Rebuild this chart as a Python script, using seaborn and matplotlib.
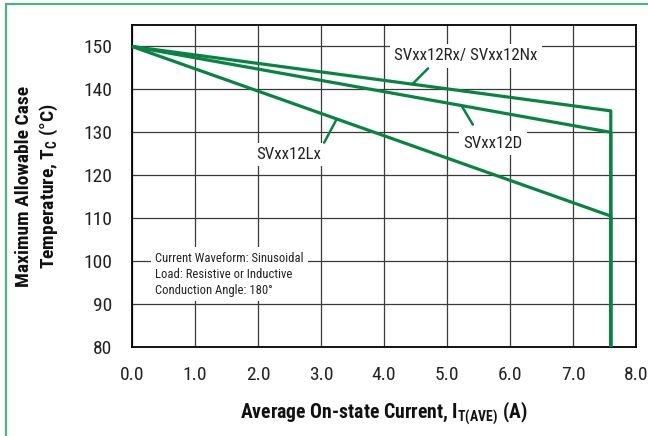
import numpy as np
import pandas as pd
import matplotlib
matplotlib.use("Agg")
import matplotlib.pyplot as plt
import seaborn as sns
from matplotlib.lines import Line2D

# data
series = ["SVxx12Rx/ SVxx12Nx", "SVxx12D", "SVxx12Lx"]
start_current = 0.0
start_temp = 150
end_current = 7.6
end_temp = [135, 130, 110.5]
floor_temp = 80

# label placement (data coords) and leader lines
label_pos = [(5.30, 147.8), (5.73, 127.5), (2.48, 124.8)]
leader_on_line = [4.45, 5.23, 3.25]
leader_end = [(4.70, 144.9), (5.41, 131.8), (3.05, 127.6)]

note = "Current Waveform: Sinusoidal\nLoad: Resistive or Inductive\nConduction Angle: 180°"

x_ticks = np.arange(0, 8.1, 1.0)
y_ticks = np.arange(80, 151, 10)

green = "#078443"

sns.set_style("white")
plt.rcParams["font.family"] = ["Roboto Condensed", "Roboto", "DejaVu Sans"]
plt.rcParams["mathtext.default"] = "regular"

rows = []
for name, t_end in zip(series, end_temp):
    for c, t in [(start_current, start_temp), (end_current, t_end), (end_current, floor_temp)]:
        rows.append({"series": name, "current": c, "temp": t})
df = pd.DataFrame(rows)

fig = plt.figure(figsize=(6.48, 4.36), dpi=100)
ax = fig.add_axes([132 / 648, 1 - 347 / 436, 504 / 648, 322 / 436])

sns.lineplot(data=df, x="current", y="temp", hue="series", sort=False,
             estimator=None, palette=[green] * 3, legend=False,
             linewidth=2.3, ax=ax, zorder=5)

ax.set_xlim(0, 8)
ax.set_ylim(80, 155)
ax.set_xticks(x_ticks)
ax.set_xticklabels([f"{v:.1f}" for v in x_ticks])
ax.set_yticks(y_ticks)
ax.grid(True, color="#3a3a3a", linewidth=0.9)
ax.set_axisbelow(True)
ax.tick_params(length=0, labelsize=14, colors="#222222")
ax.tick_params(axis="x", pad=14)
ax.tick_params(axis="y", pad=14)
for s in ax.spines.values():
    s.set_color("black")
    s.set_linewidth(1.3)

ax.set_xlabel("Average On-state Current, I$_{T(AVE)}$ (A)", fontsize=14.2,
              fontweight="bold", color="#111111")
ax.xaxis.set_label_coords(0.5, -0.163)
ax.set_ylabel("Maximum Allowable Case\nTemperature, T$_C$ (°C)", fontsize=14,
              fontweight="bold", color="#111111", linespacing=1.3)
ax.yaxis.set_label_coords(-0.143, 0.5)

# series labels with leaders
for name, (lx, ly), xl, (ex, ey), t_end in zip(series, label_pos, leader_on_line,
                                                leader_end, end_temp):
    yl = np.interp(xl, [start_current, end_current], [start_temp, t_end])
    ax.annotate("", xy=(xl, yl), xytext=(ex, ey),
                arrowprops=dict(arrowstyle="-", color=green, lw=1.8,
                                shrinkA=0, shrinkB=0), zorder=6)
    ax.text(lx, ly, name, fontsize=12.2, ha="center", va="center", color="#222222",
            bbox=dict(facecolor="white", edgecolor="none", pad=3), zorder=4)

ax.text(0.365, 97.0, note, fontsize=9.1, ha="left", va="center", color="#222222",
        linespacing=1.3,
        bbox=dict(facecolor="white", edgecolor="none", pad=3), zorder=4)

# frame lines of the original figure box (top and left only)
fig.add_artist(Line2D([6 / 648, 1], [1 - 4 / 436, 1 - 4 / 436],
                      transform=fig.transFigure, color="#4daf85", lw=1.6))
fig.add_artist(Line2D([6 / 648, 6 / 648], [0, 1 - 4 / 436],
                      transform=fig.transFigure, color="#4daf85", lw=1.6))

fig.savefig("out.png", dpi=100)
